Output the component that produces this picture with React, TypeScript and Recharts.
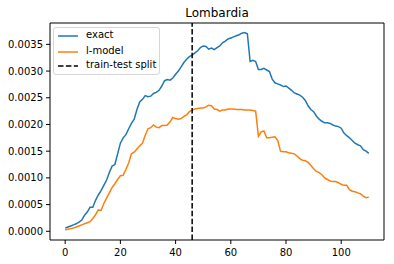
import React from 'react';
import { LineChart, Line, XAxis, YAxis, ReferenceLine } from 'recharts';

// day index 0..110
const exact = [
  0.00006, 0.00008, 0.0001, 0.00012, 0.00014, 0.00017, 0.00021, 0.0003, 0.00036, 0.00045,
  0.00045, 0.00058, 0.00068, 0.00076, 0.00086, 0.00096, 0.0011, 0.00122, 0.00125, 0.00145,
  0.00165, 0.00175, 0.00181, 0.00192, 0.00202, 0.0021, 0.00228, 0.00242, 0.00247, 0.00254,
  0.00252, 0.00253, 0.00258, 0.0026, 0.00264, 0.00272, 0.00282, 0.00284, 0.00283, 0.00287,
  0.00294, 0.003, 0.00308, 0.00316, 0.00322, 0.00327, 0.0033, 0.00334, 0.00338, 0.00344,
  0.00347, 0.00346, 0.00341, 0.00343, 0.0034, 0.00344, 0.00347, 0.00353, 0.00356, 0.0036,
  0.00362, 0.00364, 0.00366, 0.00368, 0.00371, 0.00372, 0.0037, 0.00318, 0.0032, 0.00318,
  0.00303, 0.00303, 0.00305, 0.00302, 0.00299, 0.00285, 0.00278, 0.00276, 0.00274, 0.00271,
  0.00272, 0.00268, 0.00264, 0.00259, 0.00257, 0.00255, 0.00251, 0.00245, 0.00235, 0.00228,
  0.00224, 0.00216, 0.0021, 0.00206, 0.00203, 0.00203, 0.00202, 0.00199, 0.00197, 0.00196,
  0.00193, 0.00184, 0.00179, 0.00175, 0.0017, 0.00165, 0.00162, 0.0016, 0.00153, 0.0015,
  0.00146,
];

const lModel = [
  0.00003, 0.00004, 0.00005, 0.00006, 0.00008, 0.0001, 0.00012, 0.00014, 0.00016, 0.00018,
  0.00024, 0.00031, 0.0004, 0.00039, 0.00052, 0.00062, 0.00072, 0.00082, 0.00089, 0.00097,
  0.00104, 0.00105, 0.00116, 0.00128, 0.00145, 0.00148, 0.00154, 0.0016, 0.00165, 0.0018,
  0.00192, 0.00194, 0.00199, 0.00195, 0.00194, 0.00198, 0.00198, 0.00199, 0.00205, 0.00213,
  0.00211, 0.0021, 0.00211, 0.00215, 0.00218, 0.00224, 0.00227, 0.00229, 0.0023, 0.00231,
  0.00231, 0.00233, 0.00236, 0.00235, 0.00229, 0.00228, 0.00225, 0.00227, 0.00227, 0.00229,
  0.00229, 0.00229, 0.00228, 0.00228, 0.00228, 0.00227, 0.00227, 0.00227, 0.00226, 0.00225,
  0.00178, 0.00186, 0.00188, 0.00175, 0.00175, 0.00176, 0.00177, 0.0017, 0.0015, 0.00149,
  0.00149, 0.00147, 0.00146, 0.00145, 0.00141, 0.00136, 0.00133, 0.00132, 0.00129, 0.00123,
  0.00117, 0.00112, 0.0011, 0.00106, 0.001, 0.00097, 0.00094, 0.00093, 0.00093, 0.00091,
  0.00088, 0.00086, 0.00086, 0.00078, 0.00075, 0.00074, 0.00072, 0.0007, 0.00066, 0.00063,
  0.00064,
];

const splitDay = 46;
const xTicks = [0, 20, 40, 60, 80, 100];
const yTicks = [0, 0.0005, 0.001, 0.0015, 0.002, 0.0025, 0.003, 0.0035];
const xDomain = [-5.5, 115.5];
const yDomain = [-0.000163, 0.0039];

const data = exact.map((v, i) => ({ t: i, exact: v, lmodel: lModel[i] }));

const font = 'DejaVu Sans, sans-serif';
const tickStyle = { fontSize: 10, fill: '#000', fontFamily: font };

const LegendRow = ({ top, color, dash, label }: { top: number; color: string; dash?: string; label: string }) => (
  <div style={{ position: 'absolute', left: 0, top, height: 12, width: '100%' }}>
    <svg width={30} height={12} style={{ position: 'absolute', left: 3, top: 0 }}>
      <line x1={1} y1={6} x2={21} y2={6} stroke={color} strokeWidth={1.5} strokeDasharray={dash} />
    </svg>
    <span style={{ position: 'absolute', left: 32, top: -1, fontSize: 10, lineHeight: '12px', color: '#000' }}>{label}</span>
  </div>
);

const App: React.FC = () => {
  return (
    <div style={{ position: 'absolute', left: 0, top: 0, width: 394, height: 264, background: '#fff', fontFamily: font }}>
      <div style={{ position: 'absolute', left: 50, width: 334, top: 7, textAlign: 'center', fontSize: 12, lineHeight: '12px', color: '#000' }}>
        Lombardia
      </div>
      <LineChart width={394} height={264} data={data} margin={{ top: 23, right: 10, bottom: 0, left: 0 }}>
        <XAxis
          dataKey="t"
          type="number"
          domain={xDomain}
          ticks={xTicks}
          tick={tickStyle}
          tickSize={4}
          tickMargin={5}
          height={24}
          stroke="#000"
          allowDataOverflow
        />
        <YAxis
          type="number"
          domain={yDomain}
          ticks={yTicks}
          tickFormatter={(v: number) => v.toFixed(4)}
          tick={tickStyle}
          tickSize={4}
          tickMargin={3}
          width={50}
          stroke="#000"
          allowDataOverflow
        />
        {/* top and right spines */}
        <ReferenceLine y={yDomain[1]} stroke="#000" strokeWidth={1} />
        <ReferenceLine x={xDomain[1]} stroke="#000" strokeWidth={1} />
        <Line dataKey="exact" stroke="#1f77b4" strokeWidth={1.5} dot={false} isAnimationActive={false} />
        <Line dataKey="lmodel" stroke="#ff7f0e" strokeWidth={1.5} dot={false} isAnimationActive={false} />
        <ReferenceLine x={splitDay} stroke="#000" strokeWidth={1.5} strokeDasharray="5.5 2.4" />
      </LineChart>
      <div
        style={{
          position: 'absolute',
          left: 53,
          top: 27,
          width: 107,
          height: 48,
          border: '1px solid #d6d6d6',
          borderRadius: 3,
          background: 'rgba(255,255,255,0.8)',
          boxSizing: 'border-box',
        }}
      >
        <LegendRow top={2} color="#1f77b4" label="exact" />
        <LegendRow top={17.5} color="#ff7f0e" label="l-model" />
        <LegendRow top={32} color="#000" dash="5.5 2.4" label="train-test split" />
      </div>
    </div>
  );
};

export default App;
